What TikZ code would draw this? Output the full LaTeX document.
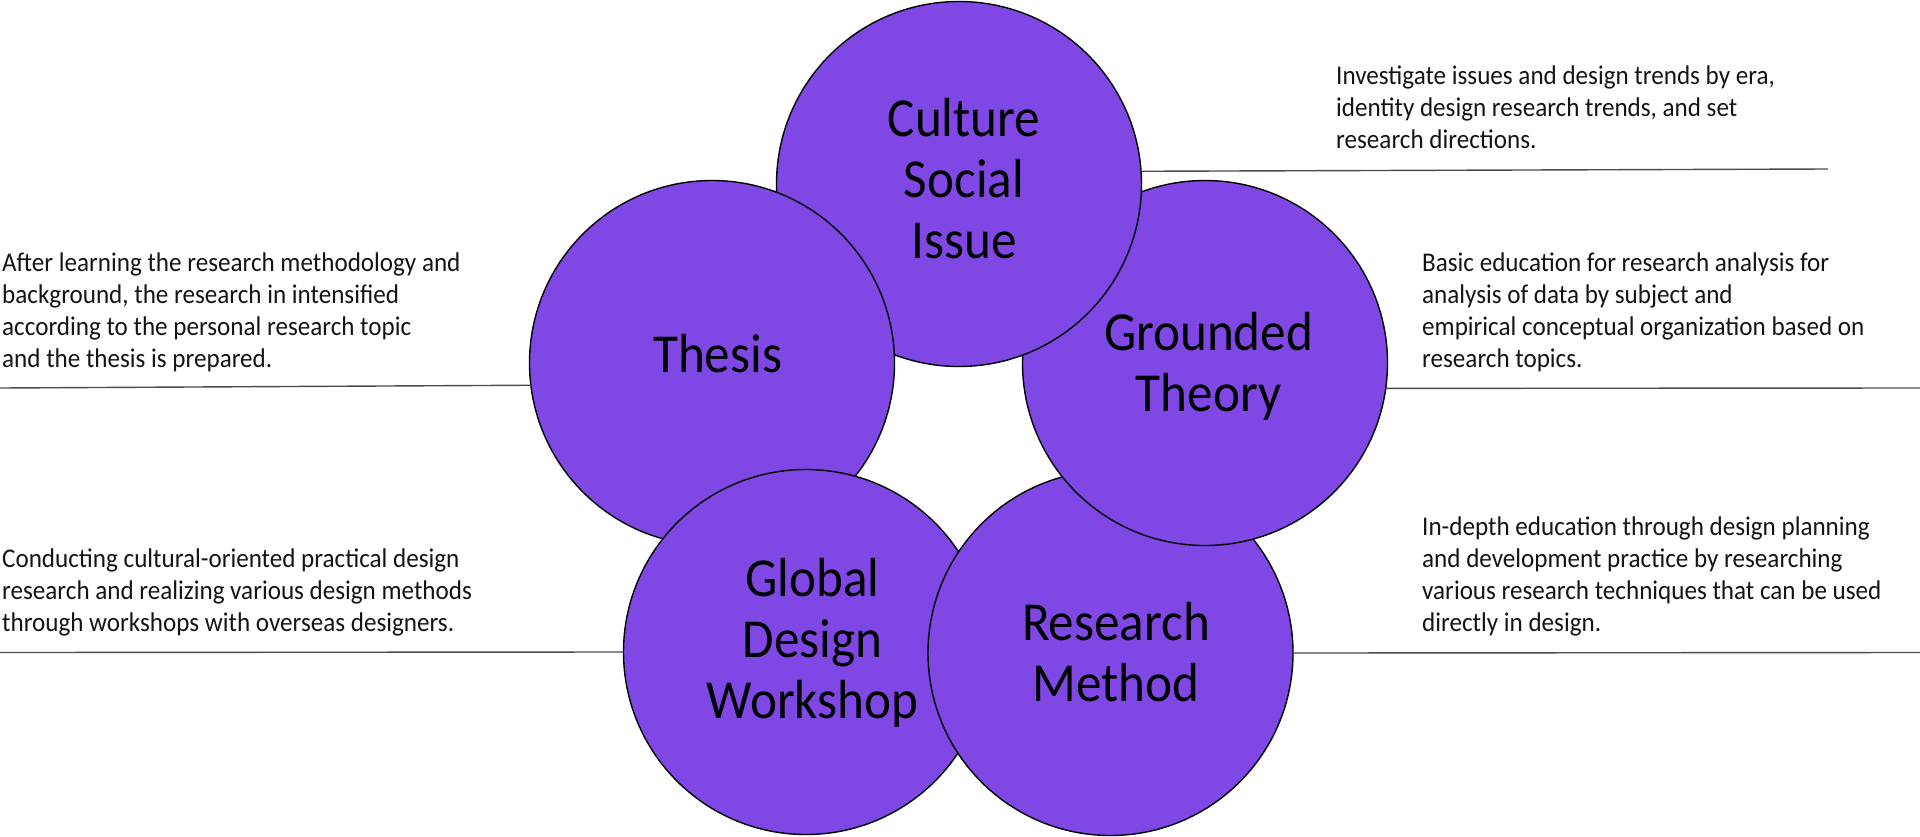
\documentclass[tikz,border=0pt]{standalone}
\usepackage{fontspec}
\setmainfont{Carlito}
\newfontfamily\diagfont[FakeStretch=0.93]{Carlito}
\definecolor{bubblefill}{RGB}{127,72,228}
\newcommand{\tstrut}{\rule{0pt}{50pt}}
\newcommand{\bstrut}{\rule{0pt}{25pt}}
\tikzset{
  bubble/.style={circle, draw=black, line width=1.4pt, fill=bubblefill, minimum size=365pt, inner sep=0pt, outer sep=0pt},
  leader/.style={draw=black!70, line width=1.4pt},
  titletext/.style={font=\diagfont\fontsize{55}{61}\selectfont, align=center, anchor=north, inner sep=0pt, text=black},
  bodytext/.style={font=\diagfont\fontsize{27}{32}\selectfont, align=left, anchor=north west, inner sep=0pt, text=black!92},
}
\begin{document}
\begin{tikzpicture}[x=1pt, y=-1pt]
\useasboundingbox (0,0) rectangle (1920,836);
% circles (z-order: thesis < global < research < grounded < culture < thesis)
\node[bubble] (thesis) at (712,363) {};
\node[bubble] (global) at (806,652) {};
\node[bubble] (research) at (1110.5,653) {};
\node[bubble] (grounded) at (1205,363) {};
\node[bubble] (culture) at (959,184) {};
\begin{scope}
  \clip (culture.center) circle [radius=185pt];
  \fill[bubblefill, draw=black, line width=1.4pt] (thesis.center) circle [radius=182.5pt];
\end{scope}
% leader lines
\coordinate (e1) at (1828,169);
\coordinate (w1) at (0,388);
\coordinate (e2) at (1920,388);
\coordinate (w2) at (0,652.5);
\coordinate (e3) at (1920,652.5);
\draw[leader] (culture.4.7) -- (e1);
\draw[leader] (thesis.187.87) -- (w1);
\draw[leader] (grounded.352.13) -- (e2);
\draw[leader] (global.180) -- (w2);
\draw[leader] (research.0) -- (e3);
% circle titles
\node[titletext] (tculture) at (964,86.7) {\tstrut Culture\\Social\\Issue};
\node[titletext] (tthesis) at (717.6,322) {\tstrut Thesis};
\node[titletext] (tgrounded) at (1208.6,300) {\tstrut Grounded\\Theory};
\node[titletext] (tglobal) at (812.5,546.7) {\tstrut Global\\Design\\Workshop};
\node[titletext] (tresearch) at (1116,590) {\tstrut Research\\Method};
% descriptions
\node[bodytext] (dculture) at (1336,59) {\bstrut Investigate issues and design trends by era,\\identity design research trends, and set\\research directions.};
\node[bodytext] (dthesis) at (2,246) {\bstrut After learning the research methodology and\\background, the research in intensified\\according to the personal research topic\\and the thesis is prepared.};
\node[bodytext] (dgrounded) at (1422,246) {\bstrut Basic education for research analysis for\\analysis of data by subject and\\empirical conceptual organization based on\\research topics.};
\node[bodytext] (dglobal) at (2,542) {\bstrut Conducting cultural-oriented practical design\\research and realizing various design methods\\through workshops with overseas designers.};
\node[bodytext] (dresearch) at (1422,510) {\bstrut In-depth education through design planning\\and development practice by researching\\various research techniques that can be used\\directly in design.};
\end{tikzpicture}
\end{document}
